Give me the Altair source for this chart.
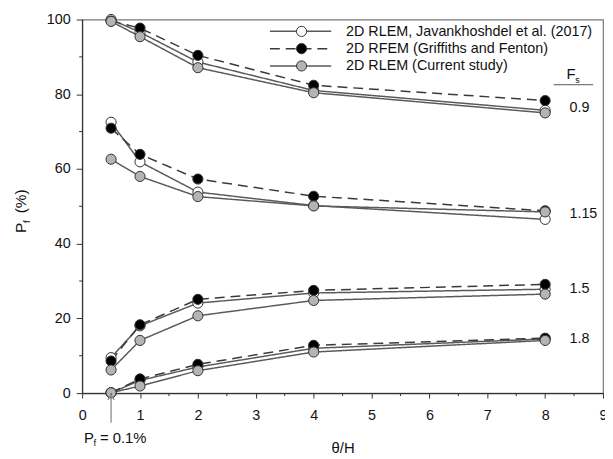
import altair as alt
import pandas as pd

# ---------------- data ----------------
theta = [0.5, 1, 2, 4, 8]
fs_levels = ["0.9", "1.15", "1.5", "1.8"]
series = [
    "2D RLEM, Javankhoshdel et al. (2017)",
    "2D RFEM (Griffiths and Fenton)",
    "2D RLEM (Current study)",
]
pf_javankhoshdel = {
    "0.9": [100.0, 96.6, 88.6, 81.0, 75.7],
    "1.15": [72.5, 61.9, 53.8, 50.2, 46.5],
    "1.5": [9.5, 18.0, 24.1, 26.8, 27.8],
    "1.8": [0.1, 3.4, 7.0, 12.0, 14.5],
}
pf_rfem = {
    "0.9": [99.6, 97.7, 90.4, 82.4, 78.3],
    "1.15": [70.9, 63.9, 57.3, 52.7, 48.8],
    "1.5": [8.6, 18.3, 25.1, 27.5, 29.1],
    "1.8": [0.1, 3.8, 7.7, 12.8, 14.7],
}
pf_current = {
    "0.9": [99.5, 95.4, 87.1, 80.4, 75.0],
    "1.15": [62.6, 58.0, 52.6, 50.1, 48.5],
    "1.5": [6.2, 14.1, 20.7, 24.8, 26.5],
    "1.8": [0.1, 1.9, 6.0, 11.0, 14.1],
}
x_ticks = [0, 1, 2, 3, 4, 5, 6, 7, 8, 9]
x_minor = [0.5, 1.5, 2.5, 3.5, 4.5, 5.5, 6.5, 7.5, 8.5]
y_ticks = [0, 20, 40, 60, 80, 100]
y_minor = [10, 30, 50, 70, 90]

# ---------------- styles ----------------
FONT = "Liberation Sans"
line_colors = ["#5a5a5a", "#3a3a3a", "#5a5a5a"]
dashes = [[1, 0], [10, 6], [1, 0]]
fills = ["white", "black", "#b4b4b4"]
W, H = 527, 378

all_pf = [pf_javankhoshdel, pf_rfem, pf_current]
rows = []
for si, (s, tab) in enumerate(zip(series, all_pf)):
    for fs in fs_levels:
        for t, v in zip(theta, tab[fs]):
            rows.append({"series": s, "order": si, "fs": fs, "grp": f"{s}|{fs}",
                         "theta": t, "pf": v})
df = pd.DataFrame(rows)

xs = alt.Scale(domain=[0, 9], nice=False, zero=False)
ys = alt.Scale(domain=[0, 100], nice=False)

x_enc = alt.X("theta:Q", scale=xs,
              axis=alt.Axis(values=x_ticks, format="d", title="θ/H", tickSize=5, labelPadding=11,
                            titlePadding=19, titleFontSize=15, titleFontWeight="normal",
                            grid=False, labelFlush=False))
y_enc = alt.Y("pf:Q", scale=ys,
              axis=alt.Axis(values=y_ticks, title=None, tickSize=6, labelPadding=6,
                            grid=False))

base = alt.Chart(df)

lines = base.mark_line(strokeWidth=1.5).encode(
    x=x_enc, y=y_enc, detail="grp:N",
    color=alt.Color("series:N", scale=alt.Scale(domain=series, range=line_colors), legend=None),
    strokeDash=alt.StrokeDash("series:N", scale=alt.Scale(domain=series, range=dashes), legend=None),
)

points = base.mark_circle(size=105, opacity=1, stroke="#333", strokeWidth=1).encode(
    x="theta:Q", y="pf:Q",
    fill=alt.Fill("series:N", scale=alt.Scale(domain=series, range=fills), legend=None),
    order=alt.Order("order:Q"),
)

# minor ticks
mx = alt.Chart(pd.DataFrame({"t": x_minor})).mark_rule(color="#333", strokeWidth=1).encode(
    x="t:Q", y=alt.value(H), y2=alt.value(H + 3))
my = alt.Chart(pd.DataFrame({"v": y_minor})).mark_rule(color="#333", strokeWidth=1).encode(
    y="v:Q", x=alt.value(0), x2=alt.value(-3))

# Fs labels, placed at the mean value of the series at the last theta
lab_df = pd.DataFrame({
    "fs": fs_levels,
    "theta": [theta[-1] + 0.42] * len(fs_levels),
    "pf": [sum(t[fs][-1] for t in all_pf) / 3 for fs in fs_levels],
})
fs_labels = alt.Chart(lab_df).mark_text(align="left", baseline="middle", fontSize=14.5,
                                        font=FONT, color="#111").encode(
    x="theta:Q", y="pf:Q", text="fs:N")

layers = [lines, points, mx, my, fs_labels]

# Fs header
layers.append(alt.Chart(pd.DataFrame({"a": [0]})).mark_text(
    text="F", align="left", baseline="alphabetic", fontSize=15, font=FONT, color="#111").encode(
    x=alt.value(490), y=alt.value(60)))
layers.append(alt.Chart(pd.DataFrame({"a": [0]})).mark_text(
    text="s", align="left", baseline="alphabetic", fontSize=9, font=FONT, color="#111").encode(
    x=alt.value(499), y=alt.value(64)))
layers.append(alt.Chart(pd.DataFrame({"a": [0]})).mark_rule(color="#555", strokeWidth=1).encode(
    x=alt.value(477), x2=alt.value(517), y=alt.value(66)))

# legend (manual)
for i, s in enumerate(series):
    ly = 12 + 17.5 * i
    one = pd.DataFrame({"series": [s]})
    layers.append(alt.Chart(one).mark_rule(strokeWidth=1.5, color=line_colors[i],
                                           strokeDash=dashes[i]).encode(
        x=alt.value(190), x2=alt.value(252), y=alt.value(ly)))
    layers.append(alt.Chart(one).mark_circle(size=105, opacity=1, stroke="#333", strokeWidth=1,
                                             fill=fills[i]).encode(
        x=alt.value(222), y=alt.value(ly)))
    layers.append(alt.Chart(one).mark_text(align="left", baseline="middle", fontSize=14.5,
                                           font=FONT, color="#111").encode(
        x=alt.value(267), y=alt.value(ly + 0.5), text="series:N"))

# y title  P_f (%)
layers.append(alt.Chart(pd.DataFrame({"a": [0]})).mark_text(
    text="P", angle=270, align="left", baseline="alphabetic", fontSize=15.5, font=FONT,
    color="#111").encode(x=alt.value(-57), y=alt.value(216)))
layers.append(alt.Chart(pd.DataFrame({"a": [0]})).mark_text(
    text="f", angle=270, align="left", baseline="alphabetic", fontSize=10, font=FONT,
    color="#111").encode(x=alt.value(-53), y=alt.value(206)))
layers.append(alt.Chart(pd.DataFrame({"a": [0]})).mark_text(
    text="(%)", angle=270, align="left", baseline="alphabetic", fontSize=15.5, font=FONT,
    color="#111").encode(x=alt.value(-57), y=alt.value(196)))

# arrow + annotation P_f = 0.1%
arrow_df = pd.DataFrame({"theta": [theta[0]]})
layers.append(alt.Chart(arrow_df).mark_rule(color="#8a8a8a", strokeWidth=1.3).encode(
    x="theta:Q", y=alt.value(H + 2), y2=alt.value(H + 30)))
layers.append(alt.Chart(arrow_df).mark_point(shape="M-1,1.5L0,0L1,1.5", size=40, filled=False,
                                             color="#8a8a8a", strokeWidth=1.3, opacity=1).encode(
    x="theta:Q", y=alt.value(H + 2)))
layers.append(alt.Chart(pd.DataFrame({"a": [0]})).mark_text(
    text="P", align="left", baseline="alphabetic", fontSize=15, font=FONT, color="#111").encode(
    x=alt.value(2), y=alt.value(H + 50)))
layers.append(alt.Chart(pd.DataFrame({"a": [0]})).mark_text(
    text="f", align="left", baseline="alphabetic", fontSize=9.5, font=FONT, color="#111").encode(
    x=alt.value(11.5), y=alt.value(H + 54)))
layers.append(alt.Chart(pd.DataFrame({"a": [0]})).mark_text(
    text="= 0.1%", align="left", baseline="alphabetic", fontSize=15, font=FONT, color="#111").encode(
    x=alt.value(18), y=alt.value(H + 50)))

chart = alt.layer(*layers).properties(
    width=W, height=H,
    autosize=alt.AutoSizeParams(type="none"),
    padding={"left": 75, "top": 9, "right": 2, "bottom": 62},
).configure_view(stroke="#777", strokeWidth=1.2).configure_axis(
    domainColor="#333", tickColor="#333", labelColor="#111", titleColor="#111",
    labelFont=FONT, titleFont=FONT, labelFontSize=14.5, domainWidth=1.2,
)

chart.save("out.html", embed_options={"renderer": "svg", "actions": False})
